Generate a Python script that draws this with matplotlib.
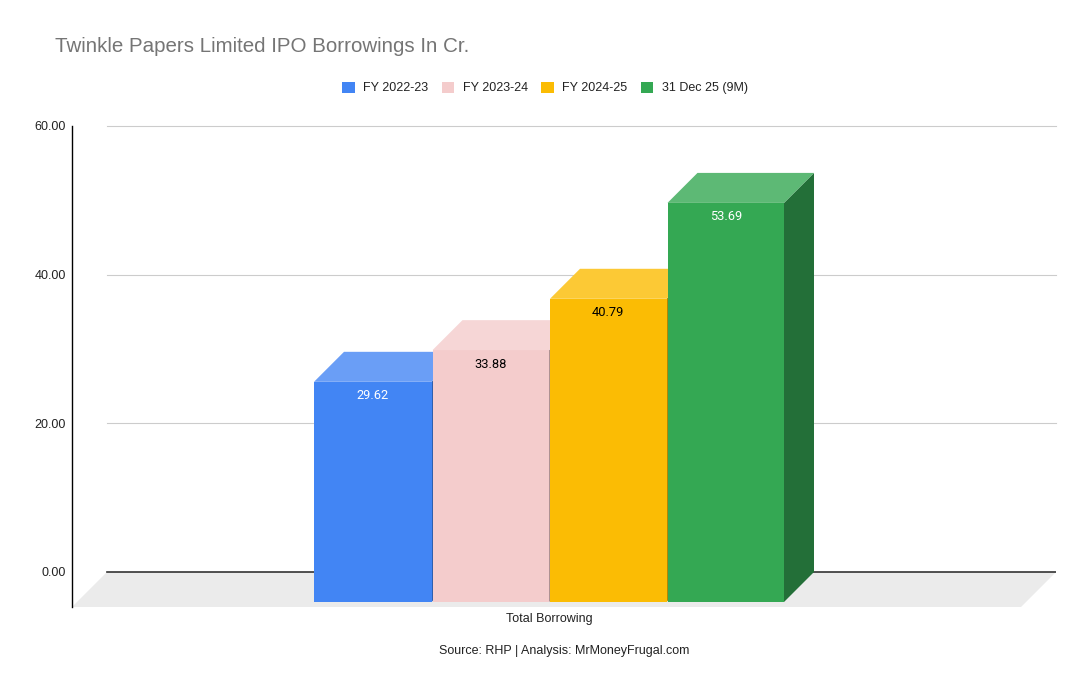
import matplotlib.pyplot as plt
from matplotlib.patches import Polygon, Patch

plt.rcParams['font.family'] = ['Liberation Sans', 'DejaVu Sans']

# data
categories = ["FY 2022-23", "FY 2023-24", "FY 2024-25", "31 Dec 25 (9M)"]
values = [29.62, 33.88, 40.79, 53.69]
yticks = [0, 20, 40, 60]
group_label = "Total Borrowing"

# colours: front face, top face, side face, value label
front_colors = ["#4285F4", "#F4CCCC", "#FBBC04", "#34A853"]
top_colors = ["#6a9ef6", "#f6d6d6", "#fcc935", "#5db975"]
side_colors = ["#2f5fae", "#ae9191", "#b38603", "#236f38"]
label_colors = ["white", "black", "black", "white"]

W, H = 1090, 694
fig = plt.figure(figsize=(W / 100, H / 100), dpi=100)
ax = fig.add_axes([72 / W, (H - 607) / H, 984 / W, 481 / H])

px_x = 117.5          # pixels per x unit
px_y = 446 / 60       # pixels per value unit
x_lo, x_hi = (72 - 549) / px_x, (1056 - 549) / px_x
y_lo = -35 / px_y
ax.set_xlim(x_lo, x_hi)
ax.set_ylim(y_lo, 60)

# depth offsets (bars and floor)
bdx, bdy = 30 / px_x, 30 / px_y
fdx, fdy = 35 / px_x, 35 / px_y
gap = 1 / px_x        # hairline between neighbouring bars

# floor
floor = Polygon([(x_lo + fdx, 0), (x_hi, 0), (x_hi - fdx, -fdy), (x_lo, -fdy)],
                closed=True, facecolor="#ebebeb", edgecolor="none", zorder=1)
ax.add_patch(floor)

# gridlines in the back plane
for t in yticks[1:]:
    ax.plot([x_lo + fdx, x_hi], [t, t], color="#cccccc", lw=0.8, zorder=0.5, clip_on=False)
ax.plot([x_lo + fdx, x_hi], [0, 0], color="#333333", lw=1.2, zorder=1.5)

# bars, left to right so later bars cover earlier side faces
n = len(values)
for i, v in enumerate(values):
    x0 = i - n / 2 + (gap if i > 0 else 0)
    x1 = i - n / 2 + 1
    front = Polygon([(x0, -bdy), (x1, -bdy), (x1, v - bdy), (x0, v - bdy)],
                    facecolor=front_colors[i], edgecolor="none", zorder=3 + i)
    top = Polygon([(x0, v - bdy), (x1, v - bdy), (x1 + bdx, v), (x0 + bdx, v)],
                  facecolor=top_colors[i], edgecolor="none", zorder=3 + i)
    side = Polygon([(x1, -bdy), (x1 + bdx, 0), (x1 + bdx, v), (x1, v - bdy)],
                   facecolor=side_colors[i], edgecolor="none", zorder=2.9 + i)
    for p in (side, front, top):
        ax.add_patch(p)
    ax.text((x0 + x1) / 2, v - bdy - 14 / px_y, f"{v:.2f}", ha="center", va="center",
            fontsize=9.3, color=label_colors[i], zorder=10, family=["Roboto", "DejaVu Sans"])

# axes styling
for s in ["top", "right", "bottom"]:
    ax.spines[s].set_visible(False)
ax.spines["left"].set_color("black")
ax.spines["left"].set_linewidth(1)
ax.set_yticks(yticks)
ax.set_yticklabels([f"{t:.2f}" for t in yticks], fontsize=9, color="#222222")
ax.tick_params(axis="y", length=0, pad=4.5)
ax.set_xticks([])

fig.text(549 / W, 1 - 619 / H, group_label, ha="center", va="center", fontsize=9, color="#222222")
fig.text(564 / W, 1 - 651 / H, "Source: RHP | Analysis: MrMoneyFrugal.com", ha="center",
         va="center", fontsize=9, color="#222222")
fig.text(55 / W, 1 - 47 / H, "Twinkle Papers Limited IPO Borrowings In Cr.", ha="left",
         va="center", fontsize=14.8, color="#757575")

handles = [Patch(facecolor=c, edgecolor="none") for c in front_colors]
fig.legend(handles, categories, loc="center", bbox_to_anchor=(545 / W, 1 - 88 / H), ncol=4,
           frameon=False, fontsize=9, handlelength=1.0, handleheight=1.0,
           handletextpad=0.65, columnspacing=1.1, labelcolor="#222222")

fig.savefig("out.png", dpi=100)
